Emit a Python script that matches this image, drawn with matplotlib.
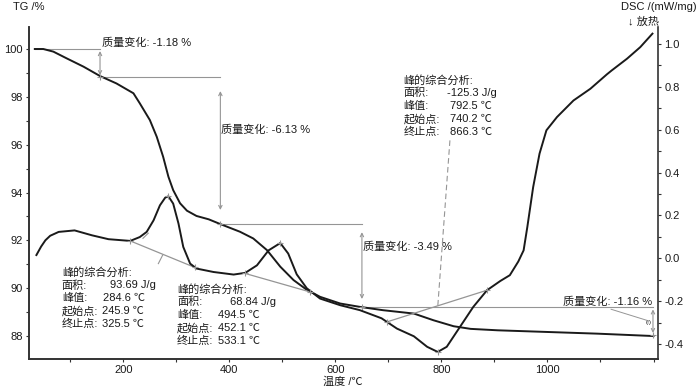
import numpy as np
import matplotlib
matplotlib.use("Agg")
import matplotlib.pyplot as plt
from matplotlib.ticker import MultipleLocator

plt.rcParams['font.family'] = ['Liberation Sans', 'Noto Sans CJK SC', 'DejaVu Sans']
plt.rcParams['axes.unicode_minus'] = False

# TG curve (temperature in degC, mass in %)
tg_temp = [33, 49, 68, 93, 125, 156, 187, 219, 231, 250, 263, 275, 285, 294, 307, 320, 338,
           361, 383, 420, 445, 471, 496, 521, 545, 571, 609, 646, 690, 748, 785, 823, 855,
           906, 1000, 1094, 1200]
tg_mass = [100.0, 100.0, 99.89, 99.61, 99.26, 98.87, 98.56, 98.15, 97.73, 97.03, 96.33, 95.5,
           94.66, 94.1, 93.55, 93.24, 93.02, 92.88, 92.68, 92.36, 92.08, 91.59, 90.9, 90.34,
           89.95, 89.64, 89.36, 89.22, 89.08, 88.94, 88.66, 88.41, 88.3, 88.24, 88.17, 88.1,
           88.0]

# DSC curve (mW/mg)
dsc_temp = [36, 45, 53, 62, 78, 108, 141, 172, 213, 231, 244, 257, 269, 279, 285, 294, 304,
            313, 326, 338, 370, 408, 430, 452, 474, 496, 511, 527, 546, 571, 609, 646, 687,
            716, 748, 773, 793, 810, 835, 860, 886, 911, 929, 945, 955, 962, 973, 985, 998,
            1018, 1049, 1081, 1112, 1121, 1150, 1175, 1198]
dsc_val = [0.015, 0.055, 0.084, 0.105, 0.123, 0.13, 0.107, 0.089, 0.081, 0.099, 0.123, 0.177,
           0.247, 0.283, 0.289, 0.255, 0.162, 0.053, -0.025, -0.048, -0.064, -0.076, -0.068,
           -0.033, 0.037, 0.071, 0.022, -0.075, -0.14, -0.188, -0.219, -0.242, -0.28, -0.328,
           -0.364, -0.413, -0.437, -0.413, -0.32, -0.227, -0.149, -0.106, -0.079, -0.015,
           0.037, 0.146, 0.332, 0.488, 0.597, 0.659, 0.736, 0.791, 0.858, 0.876, 0.931, 0.985,
           1.048]

# TG steps: temperature of the step, level before, level after, label
step_temp = [156, 383, 650, 1199]
step_from = [100.0, 98.82, 92.69, 89.20]
step_to = [98.82, 92.69, 89.20, 88.04]
step_text = ["质量变化: -1.18 %", "质量变化: -6.13 %", "质量变化: -3.49 %", "质量变化: -1.16 %"]

# DSC peak baselines and markers
base_t0 = [213, 430, 697]
base_v0 = [0.081, -0.071, -0.297]
base_t1 = [335, 552, 886]
base_v1 = [-0.043, -0.157, -0.149]
peak_t = [285, 496, 793]
peak_v = [0.289, 0.071, -0.437]

peak_keys = ["面积:", "峰值:", "起始点:", "终止点:"]
peak1_vals = ["93.69 J/g", "284.6 ℃", "245.9 ℃", "325.5 ℃"]
peak2_vals = ["68.84 J/g", "494.5 ℃", "452.1 ℃", "533.1 ℃"]
peak3_vals = ["-125.3 J/g", "792.5 ℃", "740.2 ℃", "866.3 ℃"]

gray = "#959595"
ink = "#1a1a1a"
fs = 8

fig = plt.figure(figsize=(7, 3.89), dpi=100)
ax = fig.add_axes([0.0414, 0.0771, 0.899, 0.8535])
ax2 = ax.twinx()

ax.plot(tg_temp, tg_mass, color=ink, lw=1.4, zorder=5, solid_joinstyle="round")
ax2.plot(dsc_temp, dsc_val, color=ink, lw=1.4, zorder=5, solid_joinstyle="round")

ax.set_xlim(22, 1209)
ax.set_ylim(87.04, 100.92)
ax2.set_ylim(-0.47, 1.079)

# mass change annotations
hl_start = [33, 156, 383, 650]
for i in range(4):
    ax.plot([hl_start[i], step_temp[i]], [step_from[i], step_from[i]], color=gray, lw=0.8)
gaps = [1.5, 10, 6, 1.5]
for i in range(4):
    ax.annotate("", xy=(step_temp[i], step_to[i]), xytext=(step_temp[i], step_from[i]),
                arrowprops=dict(arrowstyle="<->", color=gray, lw=0.8, mutation_scale=6,
                                shrinkA=gaps[i], shrinkB=gaps[i]))
    ax.plot(step_temp[i], step_to[i], marker="+", color=gray, ms=5, mew=0.8, zorder=6)

ax.text(159, 100.25, step_text[0], fontsize=fs, color=ink, va="center")
ax.text(385, 96.61, step_text[1], fontsize=fs, color=ink, va="center")
ax.text(652, 91.72, step_text[2], fontsize=fs, color=ink, va="center")
ax.text(1197, 89.41, step_text[3], fontsize=fs, color=ink, va="center", ha="right")
ax.plot([1120, 1187], [89.12, 88.66], color=gray, lw=0.7)
ax.text(1190, 88.55, "(!)", fontsize=4.5, color=ink, va="center", ha="center")

# DSC baselines, markers and leaders
for i in range(3):
    ax2.plot([base_t0[i], base_t1[i]], [base_v0[i], base_v1[i]], color=gray, lw=0.9, zorder=4)
    ax2.plot([base_t0[i], base_t1[i], peak_t[i]], [base_v0[i], base_v1[i], peak_v[i]],
             ls="none", marker="+", color=gray, ms=5, mew=0.8, zorder=6)
ax2.plot([237, 247], [0.093, 0.117], color=gray, lw=0.8)
ax2.plot([266, 274], [-0.025, 0.014], color=gray, lw=0.8)
ax2.plot([816, 793], [0.55, -0.227], color=gray, lw=0.8, ls=(0, (5, 3)))

# peak analysis text blocks
def peak_block(x_key, x_vals, y_top, vals, dy=0.535):
    ax.text(x_key, y_top, "峰的综合分析:", fontsize=fs, color=ink, va="center")
    for k in range(4):
        y = y_top - dy * (k + 1)
        ax.text(x_key, y, peak_keys[k], fontsize=fs, color=ink, va="center")
        ax.text(x_vals[k], y, vals[k], fontsize=fs, color=ink, va="center")

peak_block(84, [175, 162, 159, 159], 90.65, peak1_vals)
peak_block(301, [401, 379, 379, 379], 89.95, peak2_vals)
peak_block(728, [810, 816, 816, 816], 98.70, peak3_vals, dy=0.54)

# axes styling
for a in (ax, ax2):
    a.spines["top"].set_visible(False)
    for s in ("left", "right", "bottom"):
        a.spines[s].set_linewidth(1.2)
        a.spines[s].set_color("#333333")
ax.spines["right"].set_visible(False)

ax.xaxis.set_minor_locator(MultipleLocator(100))
ax.yaxis.set_major_locator(MultipleLocator(2))
ax.yaxis.set_minor_locator(MultipleLocator(1))
ax2.yaxis.set_minor_locator(MultipleLocator(0.1))
ax.set_xticks([200, 400, 600, 800, 1000])
ax2.set_yticks([-0.4, -0.2, 0.0, 0.2, 0.4, 0.6, 0.8, 1.0])
ax2.set_yticklabels(["-0.4", "-0.2", "0.0", "0.2", "0.4", "0.6", "0.8", "1.0"])

for a in (ax, ax2):
    a.tick_params(which="both", direction="out", length=2.5, width=0.8, color="#333333",
                  labelsize=8, labelcolor=ink, pad=2)

fig.text(13 / 700, 1 - 7 / 389, "TG /%", fontsize=8, color=ink, va="center", ha="left")
fig.text(697 / 700, 1 - 7 / 389, "DSC /(mW/mg)", fontsize=8, color=ink, va="center", ha="right")
fig.text(643 / 700, 1 - 22 / 389, "↓ 放热", fontsize=8, color=ink, va="center", ha="center")
fig.text(343 / 700, 1 - 382 / 389, "温度 /℃", fontsize=8, color=ink, va="center", ha="center")

fig.savefig("out.png", dpi=100)
